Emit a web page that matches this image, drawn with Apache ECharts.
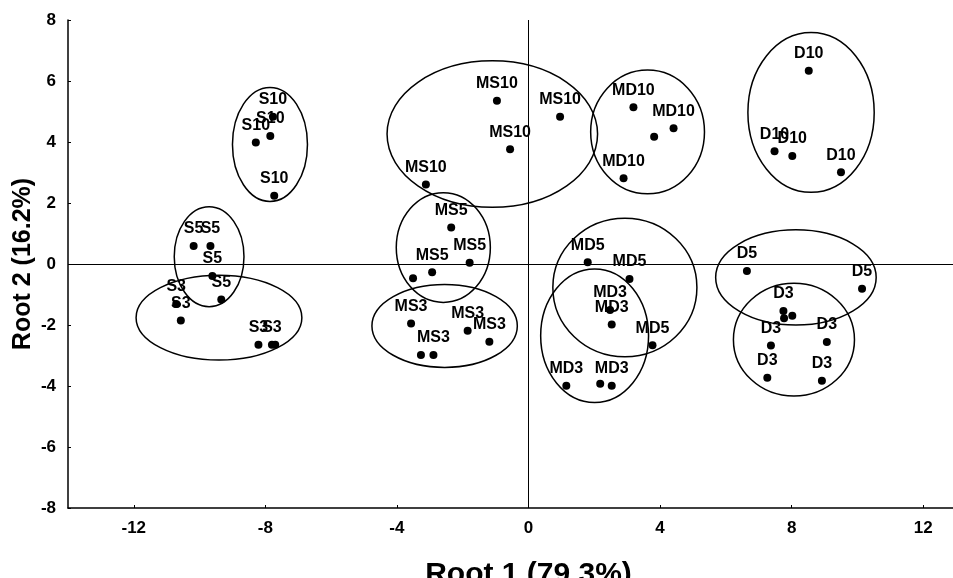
<!DOCTYPE html>
<html>
<head>
<meta charset="utf-8">
<script src="https://cdn.jsdelivr.net/npm/echarts@6/dist/echarts.min.js"></script>
<style>html,body{margin:0;padding:0;background:#fff;}#c{width:953px;height:578px;}</style>
</head>
<body>
<div id="c"></div>
<script>
// Point data (Root 1, Root 2, label)
const pointX = [-8.29,-7.85,-7.77,-7.73, -10.18,-9.67,-9.61,-9.34, -10.71,-10.57,-8.21,-7.80,-7.70,
  -0.96,0.96,-0.56,-3.12, -2.35,-1.79,-2.93,-3.51, -3.57,-1.85,-1.19,-3.27,-2.89,
  3.19,4.41,3.82,2.89, 8.52,7.48,8.02,9.50, 1.80,3.07,3.77, 6.64,10.14,
  2.48,2.53,1.15,2.18,2.53, 7.75,7.77,8.02,9.07,7.37,7.26,8.92];
const pointY = [3.98,4.20,4.83,2.24, 0.59,0.59,-0.39,-1.16, -1.31,-1.85,-2.65,-2.65,-2.65,
  5.35,4.83,3.76,2.61, 1.20,0.04,-0.27,-0.47, -1.95,-2.19,-2.55,-2.98,-2.98,
  5.14,4.45,4.17,2.81, 6.34,3.70,3.54,3.01, 0.06,-0.49,-2.66, -0.23,-0.81,
  -1.51,-1.98,-3.99,-3.93,-3.99, -1.54,-1.78,-1.70,-2.56,-2.67,-3.73,-3.83];
const pointLabel = ['S10','S10','S10','S10', 'S5','S5','S5','S5', 'S3','S3','S3','S3','',
  'MS10','MS10','MS10','MS10', 'MS5','MS5','MS5','', 'MS3','MS3','MS3','','MS3',
  'MD10','MD10','','MD10', 'D10','D10','D10','D10', 'MD5','MD5','MD5', 'D5','D5',
  'MD3','MD3','MD3','','MD3', 'D3','','','D3','D3','D3','D3'];

// Group ellipses: centre and radii in axis units
const ellipseName = ['S10','S5','S3','MS10','MS5','MS3','MD10','D10','MD5','MD3','D5','D3'];
const ellipseCX = [-7.86,-9.71,-9.41,-1.10,-2.59,-2.55,3.62,8.59,2.93,2.01,8.13,8.07];
const ellipseCY = [3.92,0.24,-1.76,4.26,0.54,-2.03,4.33,4.97,-0.77,-2.35,-0.44,-2.48];
const ellipseRX = [1.14,1.06,2.52,3.20,1.43,2.21,1.73,1.92,2.19,1.64,2.44,1.84];
const ellipseRY = [1.87,1.64,1.39,2.40,1.80,1.36,2.03,2.62,2.27,2.19,1.56,1.85];

const xTicks = [-12,-8,-4,0,4,8,12];

const FONT = "'Liberation Sans', Arial, sans-serif";
const points = pointX.map((x,i)=>({name: pointLabel[i], value:[x, pointY[i]]}));
const ellipses = ellipseCX.map((x,i)=>[x, ellipseCY[i], ellipseRX[i], ellipseRY[i]]);

const chart = echarts.init(document.getElementById('c'), null, {renderer:'canvas'});
chart.setOption({
  backgroundColor:'#fff',
  animation:false,
  grid:{left:68, right:-36, top:20, bottom:70, containLabel:false, outerBoundsMode:'none'},
  xAxis:{
    type:'value', min:-14, max:14,
    name:'Root 1 (79.3%)', nameLocation:'middle', nameGap:52, nameMoveOverlap:false,
    nameTextStyle:{fontFamily:FONT, fontWeight:'bold', fontSize:30, color:'#000'},
    axisLine:{show:true, onZero:false, lineStyle:{color:'#000', width:1.5}},
    axisTick:{show:true, inside:true, length:3, customValues:xTicks, lineStyle:{color:'#000'}},
    axisLabel:{customValues:xTicks, fontFamily:FONT, fontWeight:'bold', fontSize:17, color:'#000', margin:12},
    splitLine:{show:false}
  },
  yAxis:{
    type:'value', min:-8, max:8, interval:2,
    name:'Root 2 (16.2%)', nameLocation:'middle', nameGap:32, nameMoveOverlap:false,
    nameTextStyle:{fontFamily:FONT, fontWeight:'bold', fontSize:25, color:'#000'},
    axisLine:{show:true, onZero:false, lineStyle:{color:'#000', width:1.5}},
    axisTick:{show:true, inside:true, length:3, lineStyle:{color:'#000'}},
    axisLabel:{fontFamily:FONT, fontWeight:'bold', fontSize:17, color:'#000', margin:12},
    splitLine:{show:false}
  },
  series:[
    {
      type:'custom',
      data: ellipses,
      encode:{x:0, y:1},
      silent:true,
      z:2,
      renderItem:function(params, api){
        const c = api.coord([api.value(0), api.value(1)]);
        const s = api.size([api.value(2), api.value(3)]);
        return {type:'ellipse', shape:{cx:c[0], cy:c[1], rx:s[0], ry:s[1]},
          style:{fill:null, stroke:'#000', lineWidth:1.5}};
      }
    },
    {
      type:'scatter',
      data: points,
      symbol:'circle', symbolSize:8,
      itemStyle:{color:'#000', opacity:1},
      z:3,
      label:{show:true, position:'top', distance:5, formatter:'{b}',
        fontFamily:FONT, fontWeight:'bold', fontSize:16, color:'#000'},
      markLine:{
        silent:true, symbol:['none','none'], animation:false,
        label:{show:false},
        lineStyle:{color:'#000', type:'solid', width:1},
        data:[{xAxis:0},{yAxis:0}]
      }
    }
  ]
});
</script>
</body>
</html>
